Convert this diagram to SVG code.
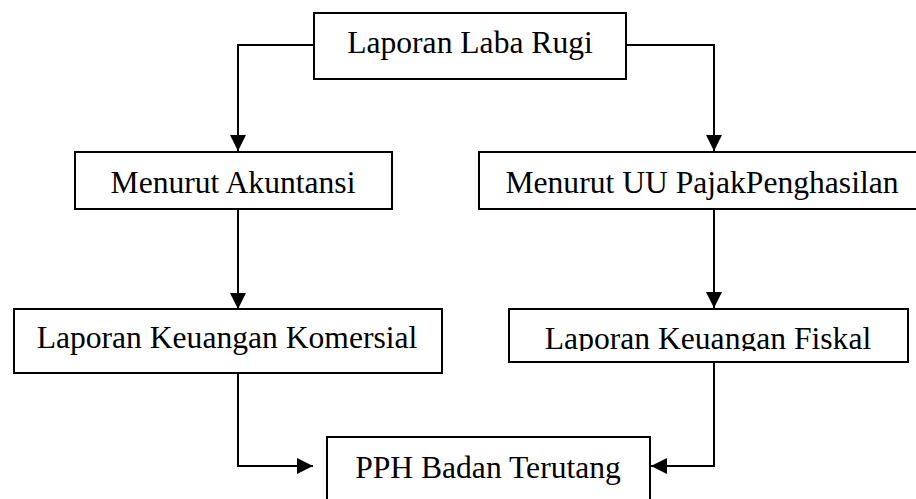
<svg xmlns="http://www.w3.org/2000/svg" width="916" height="499" viewBox="0 0 916 499">
<style>
.box{fill:#fff;stroke:#000;stroke-width:2}
.lbl{font-family:"Liberation Serif","Times New Roman",serif;font-size:31.6px;fill:#000;text-anchor:middle}
.con{fill:none;stroke:#000;stroke-width:2}
</style>
<defs>
<marker id="ah" markerWidth="16" markerHeight="16" viewBox="0 0 16 16" refX="16" refY="8" orient="auto" markerUnits="userSpaceOnUse">
<path d="M0,0 L16,8 L0,16 Z" fill="#000"/>
</marker>
<clipPath id="clipF"><rect x="508" y="309" width="400" height="42"/></clipPath>
</defs>
<rect width="916" height="499" fill="#fff"/>
<g id="connectors">
<path class="con" d="M314,45 H238 V151" marker-end="url(#ah)"/>
<path class="con" d="M626,45 H714 V151" marker-end="url(#ah)"/>
<path class="con" d="M238,209 V309" marker-end="url(#ah)"/>
<path class="con" d="M714,209 V308" marker-end="url(#ah)"/>
<path class="con" d="M238,373 V466 H313" marker-end="url(#ah)"/>
<path class="con" d="M714,362 V466 H651" marker-end="url(#ah)"/>
</g>
<g id="n1"><rect class="box" x="314" y="13" width="312" height="66"/><text class="lbl" x="470" y="53">Laporan Laba Rugi</text></g>
<g id="n2"><rect class="box" x="75" y="152" width="317" height="57"/><text class="lbl" x="233" y="193">Menurut Akuntansi</text></g>
<g id="n3"><rect class="box" x="479" y="152" width="440" height="57"/><text class="lbl" x="702" y="193">Menurut UU PajakPenghasilan</text></g>
<g id="n4"><rect class="box" x="14" y="309" width="428" height="64"/><text class="lbl" x="227" y="348">Laporan Keuangan Komersial</text></g>
<g id="n5"><rect class="box" x="509" y="309" width="399" height="53"/><text class="lbl" x="708" y="348.5" clip-path="url(#clipF)">Laporan Keuangan Fiskal</text></g>
<g id="n6"><rect class="box" x="327" y="437" width="323" height="70"/><text class="lbl" x="488" y="478">PPH Badan Terutang</text></g>
</svg>
